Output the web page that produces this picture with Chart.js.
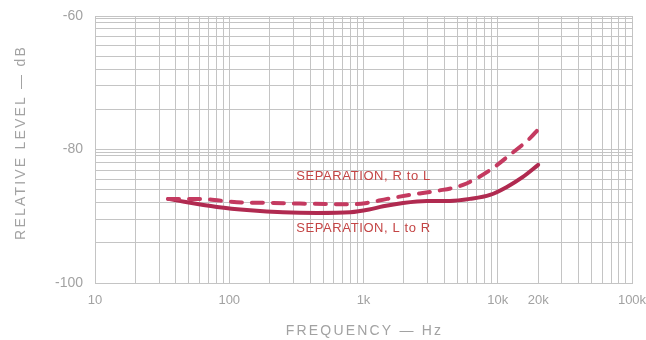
<!DOCTYPE html>
<html>
<head>
<meta charset="utf-8">
<script src="https://cdn.jsdelivr.net/npm/chart.js@4/dist/chart.umd.min.js"></script>
<style>
html,body{margin:0;padding:0;background:#fff;}
#wrap{width:646px;height:340px;position:relative;}
</style>
</head>
<body>
<div id="wrap"><canvas id="c" width="646" height="340"></canvas></div>
<script>
// ---- data ----
const freqRL  = [35, 60, 114, 212, 336, 836, 1060, 1500, 2220, 3530, 5510, 8750, 12300, 17400, 20000];
const levelRL = [-87.4, -87.4, -87.9, -88.0, -88.1, -88.2, -88.0, -87.4, -86.8, -86.2, -85.3, -83.1, -80.8, -78.3, -77.0];

const freqLR  = [35, 81, 143, 251, 450, 800, 1100, 1400, 1970, 2970, 4400, 6210, 8750, 11700, 15400, 20000];
const levelLR = [-87.4, -88.6, -89.1, -89.4, -89.5, -89.4, -89.0, -88.5, -88.0, -87.7, -87.7, -87.4, -86.8, -85.6, -84.1, -82.3];

const seriesNames = ["SEPARATION, R to L", "SEPARATION, L to R"];
const labelAnchorFreq = [1000, 1000];
const labelAnchorLevel = [-84.1, -91.8];

const xTickLabels = {10: "10", 100: "100", 1000: "1k", 10000: "10k", 20000: "20k", 100000: "100k"};
const yTickLabels = [-60, -80, -100];
const decadeMultipliers = [1, 2, 3, 4, 5, 6, 7, 8, 9, 9.5];

const xTitle = "FREQUENCY — Hz";
const yTitle = "RELATIVE LEVEL — dB";

// ---- helpers ----
function pts(xs, ys){ return xs.map((x,i)=>({x:x, y:ys[i]})); }

const xGridValues = [];
for (let d = 10; d < 100000; d *= 10) {
  for (let m = 1; m <= 9; m++) xGridValues.push(m*d);
}
xGridValues.push(100000);

const yGridValues = [];
[-100, -80].forEach(base => {
  decadeMultipliers.forEach(m => yGridValues.push(base + 20*Math.log10(m)));
});
yGridValues.push(-60);

const GRID = '#c4c4c4';
const TEXT = '#a2a2a2';
const FONT = "'Liberation Sans', Arial, sans-serif";

const overlay = {
  id: 'overlay',
  afterDatasetsDraw(chart){
    const ctx = chart.ctx;
    const xs = chart.scales.x, ys = chart.scales.y;
    ctx.save();
    ctx.fillStyle = '#c44545';
    ctx.font = "13px " + FONT;
    ctx.textAlign = 'center';
    ctx.textBaseline = 'middle';
    try { ctx.letterSpacing = '0.6px'; } catch(e){}
    seriesNames.forEach((n,i)=>{
      ctx.fillText(n, xs.getPixelForValue(labelAnchorFreq[i]), ys.getPixelForValue(labelAnchorLevel[i]));
    });
    ctx.restore();
  },
  afterDraw(chart){
    const ctx = chart.ctx;
    const a = chart.chartArea;
    ctx.save();
    ctx.fillStyle = TEXT;
    ctx.font = "14px " + FONT;
    ctx.textAlign = 'center';
    ctx.textBaseline = 'middle';
    try { ctx.letterSpacing = '2.2px'; } catch(e){}
    ctx.fillText(xTitle, (a.left + a.right)/2 + 1, 331);
    ctx.translate(21, (a.top + a.bottom)/2 - 7);
    ctx.rotate(-Math.PI/2);
    ctx.fillText(yTitle, 0, 0);
    ctx.restore();
  }
};

new Chart(document.getElementById('c'), {
  type: 'line',
  data: {
    datasets: [
      {
        label: seriesNames[0],
        data: pts(freqRL, levelRL),
        borderColor: '#c43a60',
        borderWidth: 4,
        borderDash: [11, 10],
        borderCapStyle: 'round',
        cubicInterpolationMode: 'monotone',
        pointRadius: 0,
        fill: false
      },
      {
        label: seriesNames[1],
        data: pts(freqLR, levelLR),
        borderColor: '#b02a50',
        borderWidth: 4,
        borderCapStyle: 'round',
        cubicInterpolationMode: 'monotone',
        pointRadius: 0,
        fill: false
      }
    ]
  },
  options: {
    responsive: false,
    animation: false,
    devicePixelRatio: 1,
    layout: { padding: { left: 0, right: 14, top: 16, bottom: 0 } },
    plugins: { legend: { display: false }, tooltip: { enabled: false } },
    scales: {
      x: {
        type: 'logarithmic',
        min: 10, max: 100000,
        afterBuildTicks: s => { s.ticks = xGridValues.map(v => ({value: v})); },
        afterFit: s => { s.height = 57; s.paddingLeft = 0; s.paddingRight = 0; },
        grid: { color: GRID, lineWidth: 1, drawTicks: false },
        border: { color: GRID },
        ticks: {
          autoSkip: false, maxRotation: 0, minRotation: 0, padding: 10,
          color: TEXT, font: { family: FONT, size: 13 },
          callback: v => xTickLabels[Math.round(v)] || ''
        }
      },
      y: {
        type: 'linear',
        min: -100, max: -60,
        afterBuildTicks: s => { s.ticks = yGridValues.map(v => ({value: v})); },
        afterFit: s => { s.width = 95; s.paddingTop = 0; s.paddingBottom = 0; },
        grid: { color: GRID, lineWidth: 1, drawTicks: false },
        border: { color: GRID },
        ticks: {
          autoSkip: false, padding: 12,
          color: TEXT, font: { family: FONT, size: 14 },
          callback: v => yTickLabels.some(t => Math.abs(t - v) < 1e-6) ? String(Math.round(v)) : ''
        }
      }
    }
  },
  plugins: [overlay]
});
</script>
</body>
</html>
